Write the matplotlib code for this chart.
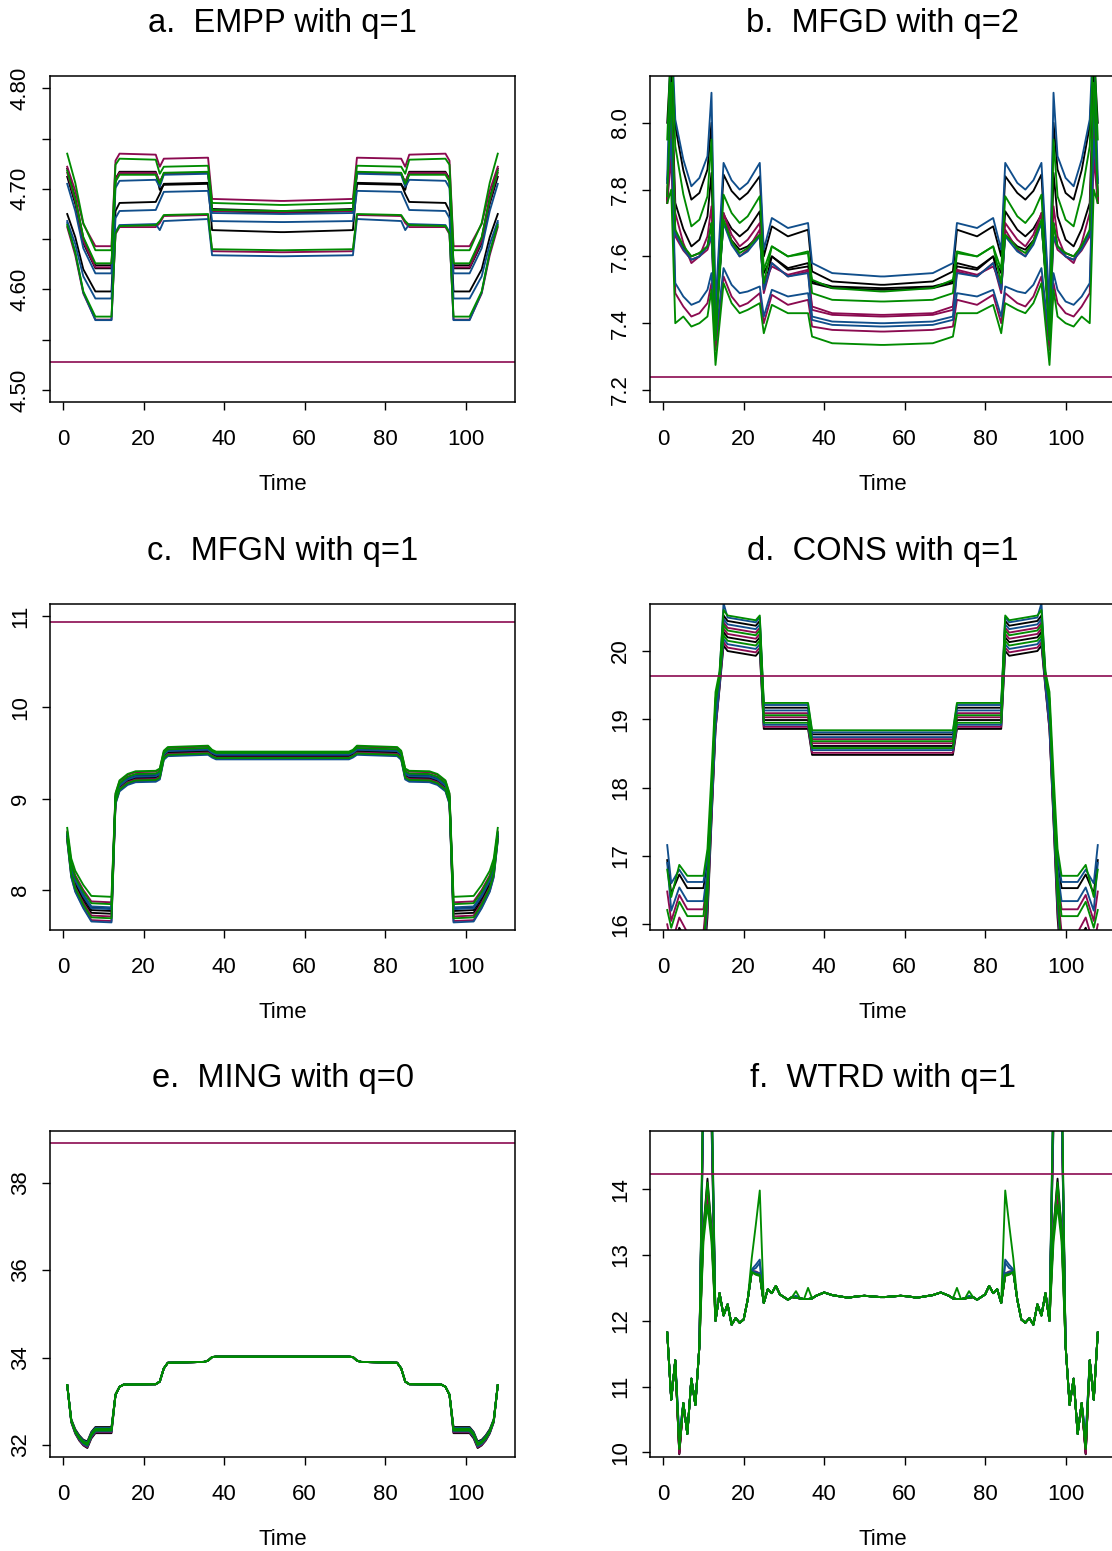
import matplotlib
matplotlib.use('Agg')
import matplotlib.pyplot as plt

plt.rcParams['font.family'] = ['Liberation Sans', 'DejaVu Sans']

BLACK = 'black'
MAROON = '#8B0A50'
BLUE = '#104E8B'
GREEN = '#008B00'

# Every profile is symmetric about t = 54.5, so only t = 1..54 is stored
# (at the time points where the shape changes); the second half is its mirror.

# a. EMPP with q=1
A_T = [1, 3, 5, 8, 12, 13, 14, 23, 24, 25, 36, 37, 54]
A_COLORS = [MAROON, GREEN, BLACK, MAROON, GREEN, BLUE, BLACK, BLACK, BLUE, GREEN, MAROON, BLUE]
A_LINES = [
    [4.722, 4.698, 4.665, 4.643, 4.643, 4.728, 4.735, 4.734, 4.722, 4.730, 4.731, 4.690, 4.688],
    [4.735, 4.706, 4.666, 4.639, 4.639, 4.724, 4.730, 4.729, 4.715, 4.722, 4.723, 4.686, 4.684],
    [4.720, 4.691, 4.651, 4.624, 4.624, 4.710, 4.717, 4.717, 4.706, 4.715, 4.716, 4.680, 4.678],
    [4.716, 4.688, 4.648, 4.622, 4.622, 4.709, 4.716, 4.716, 4.707, 4.715, 4.716, 4.678, 4.677],
    [4.718, 4.690, 4.652, 4.626, 4.626, 4.707, 4.714, 4.714, 4.705, 4.716, 4.717, 4.679, 4.678],
    [4.705, 4.678, 4.641, 4.616, 4.616, 4.701, 4.708, 4.709, 4.702, 4.714, 4.715, 4.676, 4.675],
    [4.712, 4.685, 4.646, 4.621, 4.621, 4.709, 4.716, 4.716, 4.699, 4.704, 4.705, 4.678, 4.676],
    [4.675, 4.652, 4.620, 4.598, 4.598, 4.678, 4.686, 4.687, 4.695, 4.705, 4.706, 4.659, 4.657],
    [4.668, 4.645, 4.613, 4.591, 4.591, 4.671, 4.678, 4.679, 4.688, 4.697, 4.698, 4.668, 4.667],
    [4.664, 4.637, 4.598, 4.573, 4.573, 4.656, 4.663, 4.664, 4.668, 4.674, 4.675, 4.640, 4.639],
    [4.662, 4.634, 4.596, 4.570, 4.570, 4.655, 4.662, 4.662, 4.666, 4.673, 4.674, 4.638, 4.637],
    [4.666, 4.637, 4.597, 4.5695, 4.5695, 4.657, 4.664, 4.665, 4.659, 4.668, 4.670, 4.634, 4.633],
]
A_HLINE = 4.528

# b. MFGD with q=2
B_T = [1, 2, 3, 5, 7, 9, 11, 12, 13, 15, 17, 19, 21, 24, 25, 27, 31, 36, 37, 42, 54]
B_COLORS = [BLUE, BLACK, GREEN, BLACK, MAROON, GREEN, BLACK, MAROON, BLUE, BLUE, MAROON, GREEN]
B_LINES = [
    [7.83, 8.30, 8.01, 7.89, 7.81, 7.835, 7.90, 8.09, 7.45, 7.88, 7.828, 7.80, 7.82, 7.88, 7.62, 7.715, 7.685, 7.70, 7.58, 7.55, 7.54],
    [8.00, 8.22, 7.99, 7.858, 7.77, 7.79, 7.86, 8.00, 7.42, 7.845, 7.796, 7.77, 7.79, 7.84, 7.60, 7.69, 7.66, 7.68, 7.555, 7.525, 7.515],
    [7.95, 8.25, 7.93, 7.786, 7.69, 7.71, 7.78, 7.95, 7.35, 7.785, 7.73, 7.70, 7.72, 7.78, 7.56, 7.63, 7.60, 7.615, 7.53, 7.505, 7.495],
    [7.77, 8.15, 7.76, 7.682, 7.63, 7.65, 7.72, 7.85, 7.40, 7.725, 7.683, 7.66, 7.68, 7.735, 7.55, 7.60, 7.565, 7.58, 7.525, 7.51, 7.505],
    [7.76, 8.10, 7.73, 7.64, 7.58, 7.60, 7.66, 7.75, 7.38, 7.73, 7.665, 7.63, 7.65, 7.70, 7.52, 7.57, 7.545, 7.56, 7.45, 7.43, 7.425],
    [7.78, 8.12, 7.68, 7.632, 7.60, 7.61, 7.63, 7.70, 7.36, 7.71, 7.645, 7.61, 7.625, 7.665, 7.52, 7.63, 7.60, 7.61, 7.49, 7.47, 7.465],
    [7.77, 8.05, 7.67, 7.628, 7.60, 7.61, 7.63, 7.70, 7.40, 7.70, 7.648, 7.62, 7.63, 7.665, 7.50, 7.60, 7.56, 7.57, 7.52, 7.505, 7.50],
    [7.76, 7.98, 7.66, 7.618, 7.59, 7.60, 7.62, 7.66, 7.37, 7.73, 7.645, 7.60, 7.62, 7.68, 7.49, 7.58, 7.54, 7.555, 7.44, 7.425, 7.42],
    [7.82, 8.05, 7.67, 7.622, 7.59, 7.60, 7.63, 7.66, 7.40, 7.70, 7.635, 7.60, 7.615, 7.66, 7.50, 7.58, 7.54, 7.55, 7.42, 7.405, 7.40],
    [7.82, 7.95, 7.52, 7.48, 7.455, 7.465, 7.50, 7.55, 7.35, 7.565, 7.515, 7.49, 7.495, 7.51, 7.42, 7.50, 7.48, 7.49, 7.41, 7.395, 7.39],
    [7.76, 7.90, 7.49, 7.45, 7.42, 7.43, 7.46, 7.52, 7.32, 7.54, 7.48, 7.45, 7.46, 7.49, 7.40, 7.485, 7.455, 7.47, 7.39, 7.38, 7.375],
    [7.76, 7.80, 7.40, 7.42, 7.39, 7.40, 7.42, 7.50, 7.275, 7.52, 7.46, 7.43, 7.44, 7.46, 7.37, 7.455, 7.43, 7.43, 7.36, 7.34, 7.335],
]
B_HLINE = 7.240

# c. MFGN with q=1
C_T = [1, 2, 3, 5, 7, 12, 13, 14, 16, 18, 23, 24, 25, 26, 36, 37, 38, 54]
C_COLORS = [GREEN, MAROON, GREEN, BLUE, BLACK, BLUE, BLACK, BLACK, MAROON, GREEN, MAROON, BLUE]
C_LINES = [
    [8.68, 8.345, 8.21, 8.055, 7.935, 7.925, 9.06, 9.20, 9.27, 9.30, 9.305, 9.33, 9.525, 9.565, 9.58, 9.535, 9.515, 9.515],
    [8.64, 8.30, 8.16, 8.00, 7.875, 7.865, 9.05, 9.19, 9.26, 9.29, 9.295, 9.32, 9.515, 9.555, 9.57, 9.525, 9.505, 9.505],
    [8.63, 8.28, 8.14, 7.98, 7.855, 7.845, 9.03, 9.17, 9.24, 9.27, 9.275, 9.30, 9.50, 9.54, 9.555, 9.52, 9.50, 9.50],
    [8.62, 8.26, 8.12, 7.95, 7.82, 7.81, 9.02, 9.16, 9.23, 9.26, 9.265, 9.29, 9.495, 9.535, 9.55, 9.51, 9.49, 9.49],
    [8.61, 8.25, 8.11, 7.94, 7.81, 7.80, 9.01, 9.15, 9.22, 9.25, 9.255, 9.28, 9.485, 9.525, 9.54, 9.505, 9.485, 9.485],
    [8.60, 8.24, 8.10, 7.93, 7.80, 7.79, 9.00, 9.14, 9.21, 9.24, 9.245, 9.27, 9.48, 9.52, 9.535, 9.50, 9.48, 9.48],
    [8.59, 8.23, 8.08, 7.91, 7.78, 7.77, 8.99, 9.13, 9.20, 9.23, 9.235, 9.26, 9.47, 9.51, 9.525, 9.49, 9.47, 9.47],
    [8.58, 8.21, 8.06, 7.88, 7.75, 7.74, 8.98, 9.12, 9.19, 9.22, 9.225, 9.25, 9.46, 9.50, 9.515, 9.48, 9.46, 9.46],
    [8.57, 8.19, 8.03, 7.86, 7.72, 7.71, 8.97, 9.11, 9.18, 9.21, 9.215, 9.24, 9.45, 9.49, 9.505, 9.47, 9.45, 9.45],
    [8.56, 8.17, 8.02, 7.84, 7.70, 7.69, 8.96, 9.10, 9.17, 9.20, 9.205, 9.23, 9.44, 9.48, 9.495, 9.465, 9.445, 9.445],
    [8.55, 8.15, 7.99, 7.81, 7.67, 7.66, 8.95, 9.09, 9.16, 9.19, 9.195, 9.22, 9.435, 9.475, 9.49, 9.46, 9.44, 9.44],
    [8.54, 8.14, 7.98, 7.80, 7.655, 7.645, 8.94, 9.08, 9.15, 9.18, 9.185, 9.21, 9.425, 9.465, 9.48, 9.45, 9.43, 9.43],
]
C_HLINE = 10.938

# d. CONS with q=1
D_T = [1, 2, 4, 6, 10, 11, 12, 13, 14, 15, 16, 23, 24, 25, 36, 37, 54]
D_COLORS = [GREEN, BLUE, BLACK, BLUE, MAROON, GREEN, MAROON, BLACK, GREEN, BLUE, MAROON, BLACK]
D_LINES = [
    [16.80, 16.40, 16.87, 16.71, 16.71, 17.10, 18.20, 19.40, 19.70, 20.60, 20.52, 20.45, 20.52, 19.24, 19.24, 18.84, 18.84],
    [17.16, 16.60, 16.80, 16.62, 16.62, 17.00, 17.90, 19.20, 19.65, 20.70, 20.49, 20.42, 20.49, 19.21, 19.21, 18.81, 18.81],
    [16.94, 16.45, 16.73, 16.53, 16.53, 16.95, 17.85, 19.15, 19.62, 20.52, 20.44, 20.37, 20.44, 19.17, 19.17, 18.78, 18.78],
    [16.90, 16.20, 16.54, 16.34, 16.34, 16.80, 17.80, 19.10, 19.60, 20.47, 20.39, 20.32, 20.39, 19.13, 19.13, 18.74, 18.74],
    [16.48, 16.05, 16.43, 16.22, 16.22, 16.70, 17.75, 19.05, 19.58, 20.42, 20.34, 20.27, 20.34, 19.09, 19.09, 18.71, 18.71],
    [16.21, 15.95, 16.33, 16.12, 16.12, 16.65, 17.90, 19.30, 19.62, 20.38, 20.30, 20.23, 20.30, 19.06, 19.06, 18.68, 18.68],
    [16.00, 15.70, 16.10, 15.88, 15.88, 16.50, 17.70, 19.00, 19.55, 20.33, 20.25, 20.18, 20.25, 19.03, 19.03, 18.65, 18.65],
    [15.90, 15.60, 15.95, 15.75, 15.75, 16.40, 17.65, 18.95, 19.55, 20.28, 20.20, 20.13, 20.20, 18.99, 18.99, 18.61, 18.61],
    [15.80, 15.50, 15.85, 15.65, 15.65, 16.40, 17.80, 19.25, 19.60, 20.23, 20.15, 20.08, 20.15, 18.95, 18.95, 18.58, 18.58],
    [15.70, 15.40, 15.75, 15.55, 15.55, 16.30, 17.60, 18.90, 19.50, 20.18, 20.10, 20.03, 20.10, 18.92, 18.92, 18.55, 18.55],
    [15.60, 15.30, 15.65, 15.45, 15.45, 16.20, 17.55, 18.85, 19.48, 20.13, 20.05, 19.98, 20.05, 18.89, 18.89, 18.51, 18.51],
    [15.50, 15.20, 15.55, 15.35, 15.35, 16.10, 17.50, 18.85, 19.45, 20.08, 20.00, 19.93, 20.00, 18.86, 18.86, 18.48, 18.48],
]
D_HLINE = 19.634

# e. MING with q=0 -- the models only differ over the first year
E_T = [1, 2, 3, 4, 5, 6, 7, 8, 12, 13, 14, 15, 23, 24, 25, 26, 35, 36, 37, 38, 54]
E_COLORS = [BLACK, MAROON, BLUE, GREEN] * 3
E_HEAD = [
    [33.37, 32.52, 32.26, 32.10, 31.99, 31.93, 32.15, 32.27, 32.27],
    [33.37, 32.53, 32.27, 32.11, 32.00, 31.95, 32.17, 32.29, 32.29],
    [33.37, 32.54, 32.28, 32.13, 32.02, 31.97, 32.19, 32.31, 32.31],
    [33.37, 32.55, 32.30, 32.15, 32.05, 32.00, 32.22, 32.33, 32.33],
    [33.37, 32.56, 32.32, 32.17, 32.07, 32.03, 32.25, 32.36, 32.36],
    [33.37, 32.57, 32.33, 32.19, 32.09, 32.05, 32.27, 32.38, 32.38],
    [33.37, 32.58, 32.34, 32.20, 32.10, 32.06, 32.28, 32.39, 32.39],
    [33.37, 32.56, 32.31, 32.16, 32.06, 32.02, 32.24, 32.35, 32.35],
    [33.37, 32.59, 32.36, 32.22, 32.12, 32.08, 32.30, 32.41, 32.41],
    [33.37, 32.54, 32.29, 32.14, 32.03, 31.98, 32.20, 32.32, 32.32],
    [33.37, 32.55, 32.29, 32.14, 32.04, 31.99, 32.21, 32.32, 32.32],
    [33.37, 32.57, 32.32, 32.18, 32.08, 32.04, 32.26, 32.37, 32.37],
]
E_TAIL = [33.15, 33.33, 33.38, 33.39, 33.45, 33.75, 33.88, 33.90, 33.93, 34.01, 34.02, 34.02]
E_HLINE = 38.904

# f. WTRD with q=1 -- common path plus the points where the models split
F_T = list(range(1, 38)) + [38, 40, 42, 44, 46, 48, 50, 52, 54]
F_PATH = [11.82, 10.80, 11.40, 10.00, 10.75, 10.28, 11.12, 10.72, 11.62, 14.00,
          14.10, 13.50, 12.00, 12.42, 12.08, 12.25, 11.94, 12.04, 11.97, 12.02,
          12.32, 12.75, 12.72, 12.70, 12.27, 12.48, 12.42, 12.53, 12.40, 12.36,
          12.32, 12.36, 12.35, 12.34, 12.33, 12.33, 12.34,
          12.38, 12.43, 12.39, 12.37, 12.35, 12.37, 12.38, 12.37, 12.36]
F_COLORS = [BLACK, MAROON, BLUE, GREEN] * 3
F_T4 = [9.97, 9.98, 10.25, 10.05, 10.00, 10.02, 10.20, 10.08, 9.98, 9.99, 10.22, 10.06]
F_PEAK = [  # t = 10, 11, 12
    [13.40, 14.16, 13.40], [13.30, 13.91, 13.30], [15.60, 16.20, 15.50], [13.40, 14.10, 13.40],
    [15.30, 15.90, 15.00], [15.40, 16.00, 15.10], [15.80, 16.40, 15.80], [13.20, 13.76, 13.20],
    [15.50, 16.10, 15.30], [15.60, 16.20, 15.40], [15.40, 16.00, 15.20], [15.90, 16.50, 15.60],
]
F_BUMP = [  # t = 22, 23, 24
    [12.75, 12.72, 12.70], [12.76, 12.75, 12.72], [12.78, 12.85, 12.93], [12.95, 13.45, 13.98],
    [12.75, 12.72, 12.70], [12.74, 12.71, 12.69], [12.77, 12.80, 12.88], [12.74, 12.70, 12.68],
    [12.75, 12.73, 12.71], [12.75, 12.72, 12.70], [12.76, 12.74, 12.72], [12.74, 12.71, 12.70],
]
F_LATE = [  # t = 33, 36
    [12.35, 12.33], [12.35, 12.33], [12.38, 12.33], [12.35, 12.33],
    [12.35, 12.33], [12.35, 12.33], [12.36, 12.33], [12.45, 12.50],
    [12.35, 12.33], [12.35, 12.33], [12.35, 12.33], [12.35, 12.33],
]
F_HLINE = 14.235


def mirror(knots, vals):
    t = list(knots) + [109 - k for k in reversed(knots)]
    y = list(vals) + list(reversed(vals))
    return t, y


e_lines = [head + E_TAIL for head in E_HEAD]

f_lines = []
for i in range(len(F_COLORS)):
    y = dict(zip(F_T, F_PATH))
    y[4] = F_T4[i]
    y[10], y[11], y[12] = F_PEAK[i]
    y[22], y[23], y[24] = F_BUMP[i]
    y[33], y[36] = F_LATE[i]
    f_lines.append([y[t] for t in F_T])

panels = [
    ('a.  EMPP with q=1', A_T, A_LINES, A_COLORS, A_HLINE, (4.4884, 4.8125),
     [4.50, 4.55, 4.60, 4.65, 4.70, 4.75, 4.80], ['4.50', '', '4.60', '', '4.70', '', '4.80']),
    ('b.  MFGD with q=2', B_T, B_LINES, B_COLORS, B_HLINE, (7.165, 8.141),
     [7.2, 7.4, 7.6, 7.8, 8.0], ['7.2', '7.4', '7.6', '7.8', '8.0']),
    ('c.  MFGN with q=1', C_T, C_LINES, C_COLORS, C_HLINE, (7.562, 11.131),
     [8, 9, 10, 11], ['8', '9', '10', '11']),
    ('d.  CONS with q=1', D_T, D_LINES, D_COLORS, D_HLINE, (15.917, 20.688),
     [16, 17, 18, 19, 20], ['16', '17', '18', '19', '20']),
    ('e.  MING with q=0', E_T, e_lines, E_COLORS, E_HLINE, (31.732, 39.187),
     [32, 34, 36, 38], ['32', '34', '36', '38']),
    ('f.  WTRD with q=1', F_T, f_lines, F_COLORS, F_HLINE, (9.934, 14.889),
     [10, 11, 12, 13, 14], ['10', '11', '12', '13', '14']),
]

W, H = 1112, 1551
fig = plt.figure(figsize=(W / 100, H / 100), dpi=100)

# plot boxes in pixels: left edges of the two columns, bottoms of the three rows
lefts = [50, 650]
bottoms = [401.7, 930, 1456.7]
box_w, box_h = 465, 326

draw_order = {BLACK: 0, MAROON: 1, BLUE: 2, GREEN: 3}

for k, (title, knots, lines, colors, hline, ylim, yticks, ylabels) in enumerate(panels):
    row, col = divmod(k, 2)
    ax = fig.add_axes([lefts[col] / W, (H - bottoms[row]) / H, box_w / W, box_h / H])
    for vals, c in sorted(zip(lines, colors), key=lambda p: draw_order[p[1]]):
        t, y = mirror(knots, vals)
        ax.plot(t, y, color=c, lw=1.35)
    ax.axhline(hline, color=MAROON, lw=1.2)

    ax.set_xlim(-3.28, 112.28)
    ax.set_ylim(*ylim)
    ax.set_xticks(range(0, 101, 20))
    ax.set_yticks(yticks)
    ax.set_yticklabels(ylabels, rotation=90, va='center')
    ax.tick_params(direction='out', length=5.8, width=1.0, labelsize=16)
    ax.tick_params(axis='x', pad=13.5)
    ax.tick_params(axis='y', pad=8)
    for s in ax.spines.values():
        s.set_linewidth(1.1)

    ax.text(0.5, 1.134, title, transform=ax.transAxes, ha='center',
            va='baseline', fontsize=23.5)
    ax.text(0.5, -0.2709, 'Time', transform=ax.transAxes, ha='center',
            va='baseline', fontsize=16)

fig.savefig('out.png', dpi=100)
